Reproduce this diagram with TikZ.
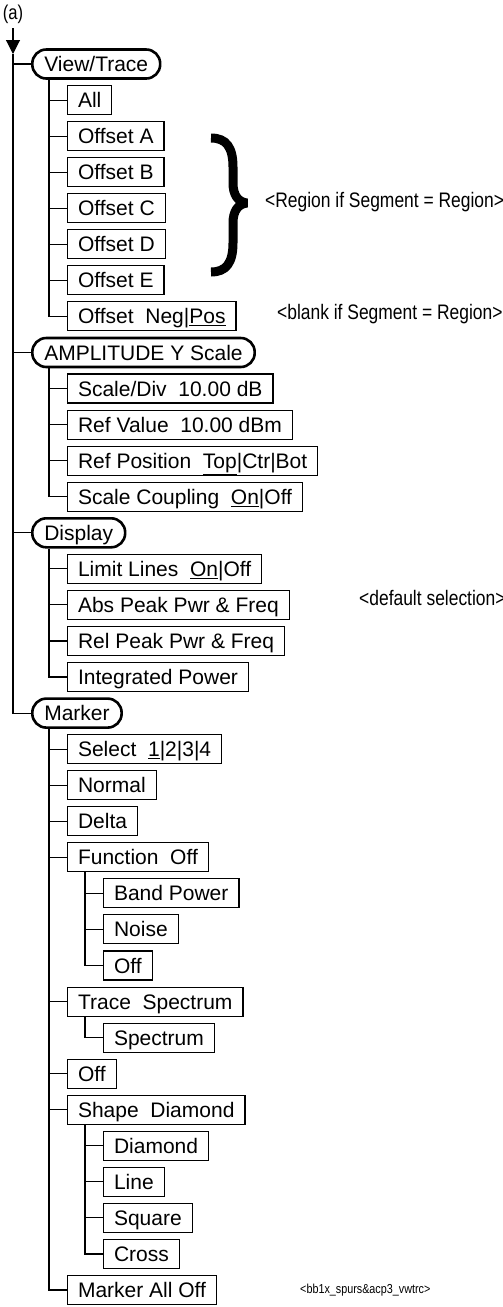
\documentclass[tikz,border=0pt]{standalone}
\usepackage{fontspec}
\setmainfont{Liberation Sans}
\newfontfamily\narrowfont[FakeStretch=0.83]{Liberation Sans}
\usetikzlibrary{arrows.meta}
\begin{document}
\begin{tikzpicture}[x=1pt,y=-1pt,
  lvlone/.style={draw,line width=2.6pt,rounded corners=14pt,minimum height=29pt,inner xsep=12pt,inner ysep=0pt,text height=16.5pt,text depth=1.5pt,anchor=west,font=\fontsize{21}{25}\selectfont},
  item/.style={draw,line width=1.1pt,minimum height=29pt,inner xsep=10.5pt,inner ysep=0pt,text height=16.5pt,text depth=1.5pt,anchor=west,font=\fontsize{21}{25}\selectfont},
  conn/.style={line width=1.1pt},
  note/.style={anchor=mid west,inner sep=0pt,font=\narrowfont\fontsize{21}{25}\selectfont}]
\useasboundingbox (0,0) rectangle (503,1307);

% title and trunk
\node[font=\narrowfont\fontsize{20}{24}\selectfont,inner sep=0pt] (lbl) at (13,14) {(a)};
\coordinate (t0) at (13,28);
\coordinate (tA) at (13,54);

% level one
\node[lvlone] (vt)   at (31,64)    {View/Trace};
\node[lvlone] (amp)  at (31,352.5) {AMPLITUDE Y Scale};
\node[lvlone] (disp) at (31,532.8) {Display};
\node[lvlone] (mk)   at (31,713.1) {Marker};

% View/Trace children
\node[item] (all)  at (67,100.1) {All};
\node[item] (offA) at (67,136.1) {Offset A};
\node[item] (offB) at (67,172.2) {Offset B};
\node[item] (offC) at (67,208.2) {Offset C};
\node[item] (offD) at (67,244.3) {Offset D};
\node[item] (offE) at (67,280.4) {Offset E};
\node[item] (offNP) at (67,316.4) {Offset~ Neg|\underline{Pos}};

% Amplitude children
\node[item] (sdiv) at (67,388.5) {Scale/Div~ 10.00 dB};
\node[item] (rval) at (67,424.6) {Ref Value~ 10.00 dBm};
\node[item] (rpos) at (67,460.7) {Ref Position~ \underline{Top}|Ctr|Bot};
\node[item] (scpl) at (67,496.7) {Scale Coupling~ \underline{On}|Off};

% Display children
\node[item] (lim)  at (67,568.8) {Limit Lines~ \underline{On}|Off};
\node[item] (abs)  at (67,604.9) {Abs Peak Pwr \& Freq};
\node[item] (rel)  at (67,641.0) {Rel Peak Pwr \& Freq};
\node[item] (intp) at (67,677.0) {Integrated Power};

% Marker children
\node[item] (sel)  at (67,749.1)  {Select~ \underline{1}|2|3|4};
\node[item] (norm) at (67,785.2)  {Normal};
\node[item] (dlt)  at (67,821.3)  {Delta};
\node[item] (fo)   at (67,857.3)  {Function~ Off};
\node[item] (bp)   at (103,893.4) {Band Power};
\node[item] (nz)   at (103,929.4) {Noise};
\node[item] (fof)  at (103,965.5) {Off};
\node[item] (ts)   at (67,1001.6) {Trace~ Spectrum};
\node[item] (spc)  at (103,1037.6) {Spectrum};
\node[item] (moff) at (67,1073.7) {Off};
\node[item] (shd)  at (67,1109.7) {Shape~ Diamond};
\node[item] (dia)  at (103,1145.8) {Diamond};
\node[item] (lin)  at (103,1181.9) {Line};
\node[item] (sq)   at (103,1217.9) {Square};
\node[item] (crs)  at (103,1254.0) {Cross};
\node[item] (mao)  at (67,1290.0) {Marker All Off};

% notes
\node[note] (nreg) at (265,205) {<Region if Segment = Region>};
\node[note] (nblk) at (277,317) {<blank if Segment = Region>};
\node[note] (ndef) at (359,603) {<default selection>};
\node[note,font=\narrowfont\fontsize{13}{15}\selectfont] (nfile) at (300,1291) {<bb1x\_spurs\&acp3\_vwtrc>};

% brace
\draw[line width=9pt,line cap=butt,line join=miter,miter limit=2]
  (211,138) .. controls (226,138) and (233,147) .. (233,167) -- (233,183)
  .. controls (233,195) and (238,202) .. (247,203)
  .. controls (238,204) and (233,211) .. (233,223) -- (233,243)
  .. controls (233,263) and (226,272) .. (211,272);

% trunk
\draw[conn,-{Triangle[length=14pt,width=14pt]}] (t0) -- (tA);
\draw[conn] (tA) |- (mk.west);
\foreach \n in {vt,amp,disp} \draw[conn] (\n.west) -- (\n.west -| tA);

% level two connectors
\draw[conn] ([xshift=18pt]vt.south west) |- (offNP.west);
\foreach \n in {all,offA,offB,offC,offD,offE} \draw[conn] (\n.west) -- ++(-18,0);
\draw[conn] ([xshift=18pt]amp.south west) |- (scpl.west);
\foreach \n in {sdiv,rval,rpos} \draw[conn] (\n.west) -- ++(-18,0);
\draw[conn] ([xshift=18pt]disp.south west) |- (intp.west);
\foreach \n in {lim,abs,rel} \draw[conn] (\n.west) -- ++(-18,0);
\draw[conn] ([xshift=18pt]mk.south west) |- (mao.west);
\foreach \n in {sel,norm,dlt,fo,ts,moff,shd} \draw[conn] (\n.west) -- ++(-18,0);

% level three connectors
\draw[conn] ([xshift=18pt]fo.south west) |- (fof.west);
\foreach \n in {bp,nz} \draw[conn] (\n.west) -- ++(-18,0);
\draw[conn] ([xshift=18pt]ts.south west) |- (spc.west);
\draw[conn] ([xshift=18pt]shd.south west) |- (crs.west);
\foreach \n in {dia,lin,sq} \draw[conn] (\n.west) -- ++(-18,0);
\end{tikzpicture}
\end{document}
